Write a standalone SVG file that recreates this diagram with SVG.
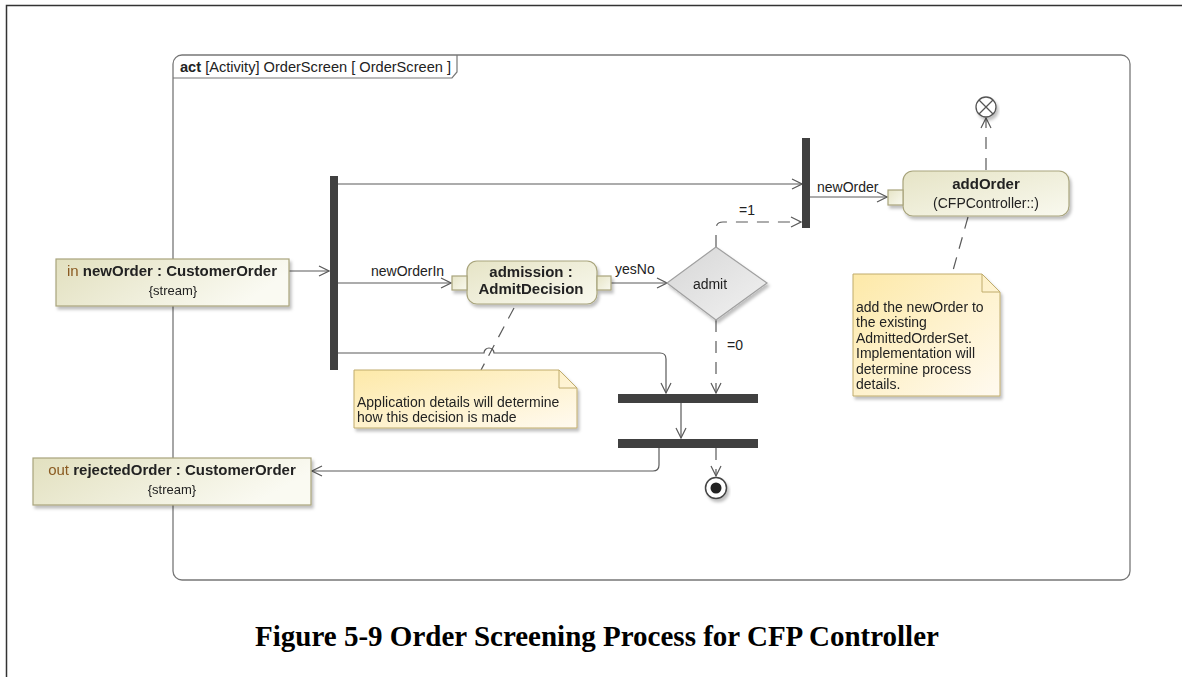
<svg xmlns="http://www.w3.org/2000/svg" width="1182" height="677" viewBox="0 0 1182 677">
<style>
.ln{fill:none;stroke:#5a5a5a;stroke-width:1.2}
.dash{fill:none;stroke:#5a5a5a;stroke-width:1.2;stroke-dasharray:12 9}
.t{font-family:"Liberation Sans",Arial,sans-serif;font-size:14px;fill:#222}
.ts{font-family:"Liberation Sans",Arial,sans-serif;font-size:13px;fill:#222}
.tb{font-family:"Liberation Sans",Arial,sans-serif;font-size:15px;font-weight:bold;fill:#222}
.kw{fill:#8a5a20;font-weight:normal}
.bar{fill:#404040}
.act{fill:url(#gAct);stroke:#a8a47c;stroke-width:1.2}
.pin{fill:url(#gPin);stroke:#a8a47c;stroke-width:1.2}
.note{fill:url(#gNote);stroke:#c0ac6c;stroke-width:1}
.sh{filter:url(#shadow)}
</style>
<defs>
<linearGradient id="gPin" x1="0" y1="0" x2="1" y2="0.3">
<stop offset="0" stop-color="#e2e0bf"/><stop offset="1" stop-color="#fafaf2"/>
</linearGradient>
<linearGradient id="gAct" x1="0" y1="0" x2="1" y2="1">
<stop offset="0" stop-color="#e6e4c6"/><stop offset="1" stop-color="#f9f9ef"/>
</linearGradient>
<linearGradient id="gNote" x1="0" y1="0" x2="1" y2="1">
<stop offset="0" stop-color="#fde9a8"/><stop offset="1" stop-color="#fffaf0"/>
</linearGradient>
<linearGradient id="gDia" x1="0" y1="0" x2="1" y2="1">
<stop offset="0" stop-color="#d6d6d6"/><stop offset="1" stop-color="#f2f2f2"/>
</linearGradient>
<filter id="shadow" x="-10%" y="-10%" width="130%" height="140%">
<feDropShadow dx="2" dy="3" stdDeviation="1.5" flood-color="#000" flood-opacity="0.25"/>
</filter>
<marker id="arr" viewBox="0 0 12 12" refX="11" refY="6" markerWidth="12" markerHeight="12" markerUnits="userSpaceOnUse" orient="auto">
<path d="M1,1 L11,6 L1,11" fill="none" stroke="#5a5a5a" stroke-width="1.2"/>
</marker>
</defs>

<!-- outer border -->
<path d="M6.5,677 V5.5 H1182" fill="none" stroke="#333" stroke-width="1.5"/>

<!-- frame -->
<g id="frame">
<rect x="173" y="55" width="957" height="525" rx="9" fill="#fff" stroke="#777" stroke-width="1.3"/>
<path d="M173,78 H452 L457,72 V55" fill="none" stroke="#777" stroke-width="1.2"/>
<text x="180" y="72" class="t" textLength="271" lengthAdjust="spacingAndGlyphs"><tspan font-weight="bold">act</tspan> [Activity] OrderScreen [ OrderScreen ]</text>
</g>

<!-- connectors -->
<g id="connectors">
<path class="ln" d="M289,271 H329" marker-end="url(#arr)"/>
<path class="ln" d="M338,184 H802" marker-end="url(#arr)"/>
<path class="ln" d="M338,283 H451" marker-end="url(#arr)"/>
<path class="ln" d="M338,353 H484 A5,5 0 0 1 494,353 H660 Q666,353 666,359 V393" marker-end="url(#arr)"/>
<path class="ln" d="M611,283 H667" marker-end="url(#arr)"/>
<path class="dash" d="M716,247 V229 Q716,222 723,222 H801" marker-end="url(#arr)"/>
<path class="dash" d="M716,320 V393" marker-end="url(#arr)"/>
<path class="ln" d="M681,403 V438" marker-end="url(#arr)"/>
<path class="ln" d="M659,448 V465 Q659,471 653,471 H312" marker-end="url(#arr)"/>
<path class="dash" d="M716,448 V476" marker-end="url(#arr)"/>
<path class="ln" d="M810,197 H887" marker-end="url(#arr)"/>
<path class="dash" d="M986,170 V118" marker-end="url(#arr)"/>
<path class="dash" d="M514,308 L481,370"/>
<path class="dash" d="M968,217 L952,274"/>
<text x="371" y="276" class="t">newOrderIn</text>
<text x="615" y="274" class="t">yesNo</text>
<text x="739" y="215" class="t">=1</text>
<text x="727" y="350" class="t">=0</text>
<text x="817" y="192" class="t">newOrder</text>
</g>

<g id="forkIn"><rect class="bar" x="330" y="176" width="8" height="194"/></g>
<g id="forkAdd"><rect class="bar" x="802" y="138" width="8" height="90"/></g>
<g id="join1"><rect class="bar" x="618" y="394" width="140" height="9"/></g>
<g id="join2"><rect class="bar" x="618" y="439" width="140" height="9"/></g>

<g id="newOrder" class="sh">
<rect class="pin" x="56" y="259" width="233" height="47"/>
<text x="172" y="276" class="tb" text-anchor="middle"><tspan class="kw">in</tspan> newOrder : CustomerOrder</text>
<text x="173" y="295" class="ts" text-anchor="middle">{stream}</text>
</g>

<g id="rejectedOrder" class="sh">
<rect class="pin" x="33" y="458" width="278" height="47"/>
<text x="172" y="475" class="tb" text-anchor="middle"><tspan class="kw">out</tspan> rejectedOrder : CustomerOrder</text>
<text x="172" y="494" class="ts" text-anchor="middle">{stream}</text>
</g>

<g id="admission" class="sh">
<rect class="act" x="467" y="261" width="130" height="43" rx="10"/>
<rect class="act" x="452" y="276" width="15" height="14"/>
<rect class="act" x="597" y="276" width="14" height="14"/>
<text x="531" y="277" class="tb" text-anchor="middle">admission :</text>
<text x="531" y="294" class="tb" text-anchor="middle">AdmitDecision</text>
</g>

<g id="admit" class="sh">
<polygon points="716,247 767,283 716,320 667,283" fill="url(#gDia)" stroke="#a0a0a0" stroke-width="1.2"/>
<text x="710" y="289" class="t" text-anchor="middle">admit</text>
</g>

<g id="addOrder" class="sh">
<rect class="act" x="903" y="171" width="166" height="45" rx="10"/>
<rect class="act" x="888" y="190" width="15" height="15"/>
<text x="986" y="189" class="tb" text-anchor="middle">addOrder</text>
<text x="986" y="208" class="t" text-anchor="middle">(CFPController::)</text>
</g>

<g id="flowFinal" class="sh">
<circle cx="986" cy="107" r="10" fill="#fff" stroke="#555" stroke-width="1.3"/>
<path d="M979,100 L993,114 M993,100 L979,114" stroke="#555" stroke-width="1.3"/>
</g>

<g id="activityFinal" class="sh">
<circle cx="716" cy="488" r="10.5" fill="#fff" stroke="#444" stroke-width="1.5"/>
<circle cx="716" cy="488" r="5.5" fill="#222"/>
</g>

<g id="noteAdmission" class="sh">
<path class="note" d="M354,370 H559 L577,388 V428 H354 Z"/>
<path d="M559,370 V388 H577" fill="none" stroke="#c0ac6c" stroke-width="1"/>
<text x="357" y="407" class="t">Application details will determine</text>
<text x="357" y="422" class="t">how this decision is made</text>
</g>

<g id="noteAddOrder" class="sh">
<path class="note" d="M853,274 H982 L1000,292 V396 H853 Z"/>
<path d="M982,274 V292 H1000" fill="none" stroke="#c0ac6c" stroke-width="1"/>
<text x="856" y="312" class="t">add the newOrder to</text>
<text x="856" y="327" class="t">the existing</text>
<text x="856" y="343" class="t">AdmittedOrderSet.</text>
<text x="856" y="358" class="t">Implementation will</text>
<text x="856" y="374" class="t">determine process</text>
<text x="856" y="389" class="t">details.</text>
</g>

<text x="597" y="646" font-family="'Liberation Serif','Times New Roman',serif" font-size="29" font-weight="bold" text-anchor="middle" fill="#000">Figure 5-9 Order Screening Process for CFP Controller</text>
</svg>
